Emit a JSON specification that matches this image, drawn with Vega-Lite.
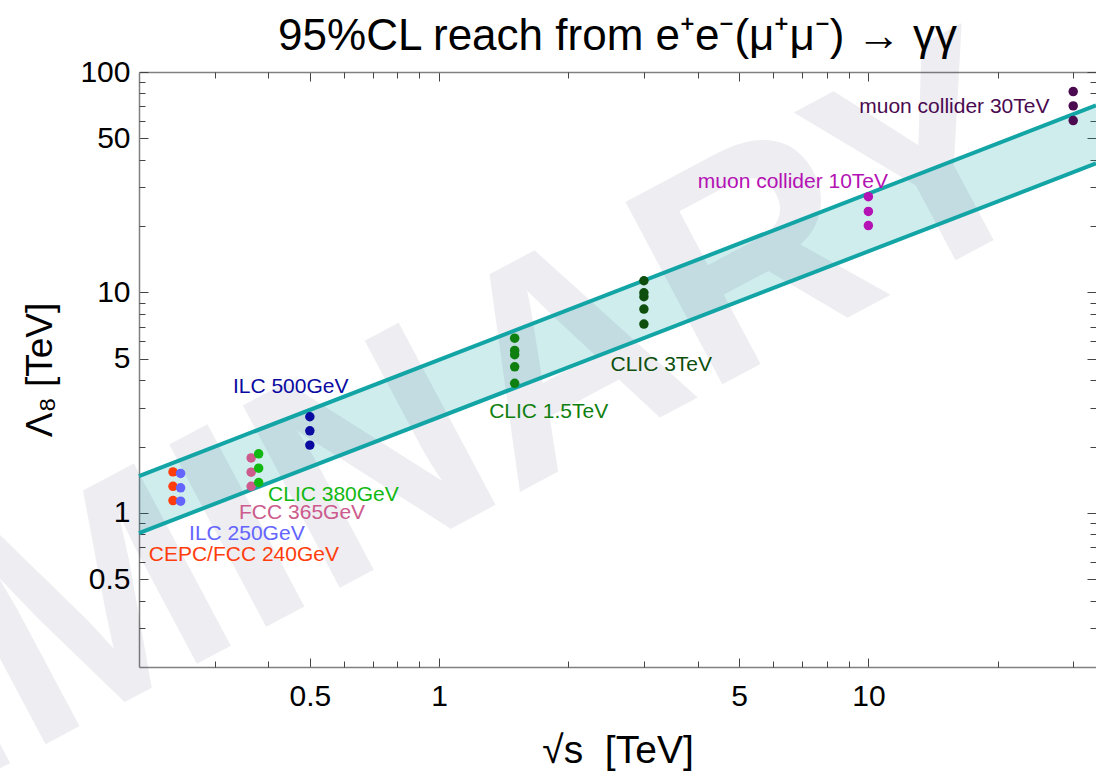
{
  "$schema": "https://vega.github.io/schema/vega-lite/v6.json",
  "width": 957,
  "height": 595,
  "autosize": {"type": "none"},
  "padding": {"left": 139, "top": 72, "right": 0, "bottom": 117},
  "background": "white",
  "title": {"text": "95%CL reach from e⁺e⁻(μ⁺μ⁻) → γγ", "fontSize": 44, "font": "Liberation Sans", "fontWeight": "normal", "color": "black", "anchor": "middle", "offset": 12, "dy": 80},
  "config": {"view": {"stroke": null}, "font": "Liberation Sans", "axis": {"grid": false, "domainColor": "#808080", "domainWidth": 1.5, "tickColor": "#444444", "tickWidth": 1, "labelFont": "Liberation Sans", "labelFontSize": 30, "labelColor": "black", "titleFont": "Liberation Sans", "titleFontSize": 37, "titleFontWeight": "normal", "titleColor": "black"}},
  "datasets": {
    "band": [
      {"s": 0.2, "lo": 0.81, "hi": 1.47},
      {"s": 33.9, "lo": 38.5, "hi": 70.5}
    ],
    "pts": [
      {"collider": "CEPC/FCC 240GeV", "s": 0.24, "lam": 1.535},
      {"collider": "CEPC/FCC 240GeV", "s": 0.24, "lam": 1.32},
      {"collider": "CEPC/FCC 240GeV", "s": 0.24, "lam": 1.138},
      {"collider": "ILC 250GeV", "s": 0.25, "lam": 1.51},
      {"collider": "ILC 250GeV", "s": 0.25, "lam": 1.30},
      {"collider": "ILC 250GeV", "s": 0.25, "lam": 1.13},
      {"collider": "FCC 365GeV", "s": 0.365, "lam": 1.776},
      {"collider": "FCC 365GeV", "s": 0.365, "lam": 1.53},
      {"collider": "FCC 365GeV", "s": 0.365, "lam": 1.32},
      {"collider": "CLIC 380GeV", "s": 0.38, "lam": 1.853},
      {"collider": "CLIC 380GeV", "s": 0.38, "lam": 1.595},
      {"collider": "CLIC 380GeV", "s": 0.38, "lam": 1.374},
      {"collider": "ILC 500GeV", "s": 0.5, "lam": 2.73},
      {"collider": "ILC 500GeV", "s": 0.5, "lam": 2.357},
      {"collider": "ILC 500GeV", "s": 0.5, "lam": 2.03},
      {"collider": "CLIC 1.5TeV", "s": 1.5, "lam": 6.2},
      {"collider": "CLIC 1.5TeV", "s": 1.5, "lam": 5.46},
      {"collider": "CLIC 1.5TeV", "s": 1.5, "lam": 5.22},
      {"collider": "CLIC 1.5TeV", "s": 1.5, "lam": 4.6},
      {"collider": "CLIC 1.5TeV", "s": 1.5, "lam": 3.87},
      {"collider": "CLIC 3TeV", "s": 3.0, "lam": 11.3},
      {"collider": "CLIC 3TeV", "s": 3.0, "lam": 9.97},
      {"collider": "CLIC 3TeV", "s": 3.0, "lam": 9.56},
      {"collider": "CLIC 3TeV", "s": 3.0, "lam": 8.41},
      {"collider": "CLIC 3TeV", "s": 3.0, "lam": 7.19},
      {"collider": "muon collider 10TeV", "s": 10, "lam": 27.2},
      {"collider": "muon collider 10TeV", "s": 10, "lam": 23.3},
      {"collider": "muon collider 10TeV", "s": 10, "lam": 20.1},
      {"collider": "muon collider 30TeV", "s": 30, "lam": 81.5},
      {"collider": "muon collider 30TeV", "s": 30, "lam": 70.2},
      {"collider": "muon collider 30TeV", "s": 30, "lam": 60.2}
    ],
    "labels": [
      {"collider": "CEPC/FCC 240GeV", "s": 0.2107, "lam": 0.643},
      {"collider": "ILC 250GeV", "s": 0.2616, "lam": 0.80},
      {"collider": "FCC 365GeV", "s": 0.342, "lam": 0.994},
      {"collider": "CLIC 380GeV", "s": 0.3996, "lam": 1.203},
      {"collider": "ILC 500GeV", "s": 0.331, "lam": 3.71},
      {"collider": "CLIC 1.5TeV", "s": 1.308, "lam": 2.874},
      {"collider": "CLIC 3TeV", "s": 2.508, "lam": 4.68},
      {"collider": "muon collider 10TeV", "s": 4.005, "lam": 31.8},
      {"collider": "muon collider 30TeV", "s": 9.52, "lam": 69.7}
    ],
    "wm": [
      {"text": "PRELIMINARY", "s": 0.174, "lam": 0.377}
    ]
  },
  "resolve": {"axis": {"x": "independent", "y": "independent"}},
  "layer": [
    {
      "data": {"name": "band"},
      "mark": {"type": "area", "color": "#13a5a5", "opacity": 0.2},
      "encoding": {
        "x": {"field": "s", "type": "quantitative", "scale": {"type": "log", "domain": [0.2, 33.9], "nice": false, "zero": false},
          "axis": {"orient": "bottom", "values": [0.5, 1, 5, 10], "tickSize": -9, "labelPadding": 23, "labelFlush": false, "labelOverlap": false, "format": "~g", "title": "√s\u00a0\u00a0[TeV]", "titleFontSize": 39, "titlePadding": 20}},
        "y": {"field": "hi", "type": "quantitative", "scale": {"type": "log", "domain": [0.2, 100], "nice": false, "zero": false},
          "axis": {"orient": "left", "values": [0.5, 1, 5, 10, 50, 100], "tickSize": -9, "labelPadding": 18, "labelFlush": false, "labelOverlap": false, "format": "~g", "title": "Λ₈ [TeV]", "titlePadding": 20}},
        "y2": {"field": "lo"}
      }
    },
    {
      "data": {"name": "wm"},
      "mark": {"type": "text", "font": "Liberation Sans", "fontWeight": "bold", "fontSize": 300, "angle": -28, "align": "center", "baseline": "middle", "color": "#1e1e5a", "opacity": 0.075},
      "encoding": {
        "x": {"field": "s", "type": "quantitative", "axis": {"orient": "bottom", "values": [0.3, 0.4, 0.6, 0.7, 0.8, 0.9, 2, 3, 4, 6, 7, 8, 9, 20, 30], "tickSize": -6, "labels": false, "domain": false, "title": null}},
        "y": {"field": "lam", "type": "quantitative", "axis": {"orient": "left", "values": [0.3, 0.4, 0.6, 0.7, 0.8, 0.9, 2, 3, 4, 6, 7, 8, 9, 20, 30, 40, 60, 70, 80, 90], "tickSize": -6, "labels": false, "domain": false, "title": null}},
        "text": {"field": "text"}
      }
    },
    {
      "data": {"name": "band"},
      "mark": {"type": "line", "color": "#13a5a5", "strokeWidth": 4},
      "encoding": {
        "x": {"field": "s", "type": "quantitative", "axis": {"orient": "top", "values": [0.5, 1, 5, 10], "tickSize": -9, "labels": false, "title": null}},
        "y": {"field": "hi", "type": "quantitative", "axis": {"orient": "right", "values": [0.5, 1, 5, 10, 50, 100], "tickSize": -9, "labels": false, "domain": false, "title": null}}
      }
    },
    {
      "data": {"name": "band"},
      "mark": {"type": "line", "color": "#13a5a5", "strokeWidth": 4},
      "encoding": {
        "x": {"field": "s", "type": "quantitative", "axis": {"orient": "top", "values": [0.3, 0.4, 0.6, 0.7, 0.8, 0.9, 2, 3, 4, 6, 7, 8, 9, 20, 30], "tickSize": -6, "labels": false, "domain": false, "title": null}},
        "y": {"field": "lo", "type": "quantitative", "axis": {"orient": "right", "values": [0.3, 0.4, 0.6, 0.7, 0.8, 0.9, 2, 3, 4, 6, 7, 8, 9, 20, 30, 40, 60, 70, 80, 90], "tickSize": -6, "labels": false, "domain": false, "title": null}}
      }
    },
    {
      "data": {"name": "pts"},
      "mark": {"type": "circle", "size": 90, "opacity": 1},
      "encoding": {
        "x": {"field": "s", "type": "quantitative", "axis": null},
        "y": {"field": "lam", "type": "quantitative", "axis": null},
        "color": {"field": "collider", "type": "nominal", "legend": null,
          "scale": {"domain": ["CEPC/FCC 240GeV", "ILC 250GeV", "FCC 365GeV", "CLIC 380GeV", "ILC 500GeV", "CLIC 1.5TeV", "CLIC 3TeV", "muon collider 10TeV", "muon collider 30TeV"],
                    "range": ["#ff3d0d", "#6464ff", "#cc5a8c", "#12b812", "#0a0aa0", "#0f800f", "#0e4f0e", "#b412b4", "#4b0a50"]}}
      }
    },
    {
      "data": {"name": "labels"},
      "mark": {"type": "text", "font": "Liberation Sans", "fontSize": 21, "align": "left", "baseline": "middle"},
      "encoding": {
        "x": {"field": "s", "type": "quantitative", "axis": null},
        "y": {"field": "lam", "type": "quantitative", "axis": null},
        "text": {"field": "collider"},
        "color": {"field": "collider", "type": "nominal", "legend": null}
      }
    }
  ]
}
